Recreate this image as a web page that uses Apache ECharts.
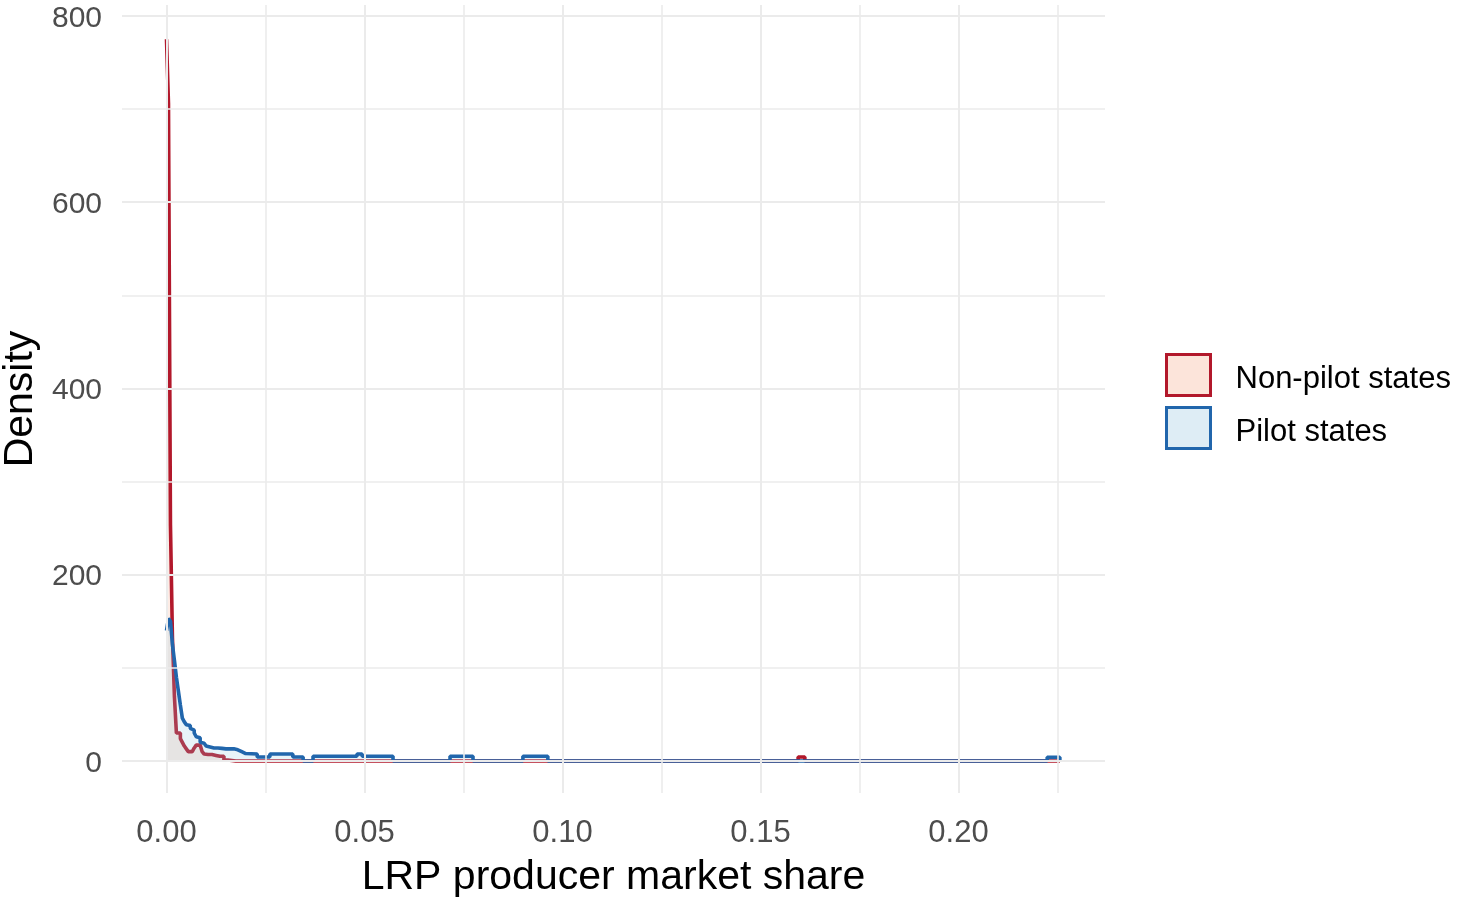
<!DOCTYPE html>
<html>
<head>
<meta charset="UTF-8">
<title>LRP producer market share</title>
<script type="text/javascript" src="https://cdn.jsdelivr.net/npm/echarts@6/dist/echarts.min.js"></script>
<style type="text/css">
html, body {
	margin: 0;
	padding: 0;
	background-color: #FFFFFF
}
#chart {
	width: 1458px;
	height: 901px
}
</style>
</head>
<body>
	<div id="chart"></div>
</body>
<script type="text/javascript">
	// histogram, first part in bins of equal width
	var binWidth = 0.0005;
	var nonPilotHead = [775, 706, 253, 132, 69, 30, 30, 24, 20, 16,
		13, 10, 10, 10, 14, 17, 17, 15, 10, 7.5,
		7, 6, 7, 5, 6, 5, 5, 6, 5, 1,
		1, 0.5, 0.5, 0.5, 0, 0, 0, 0, 0, 0];
	var pilotHead = [140, 153, 150, 125, 108, 90, 75, 60, 46, 42,
		39, 38, 35, 33, 30, 26, 25, 20, 19, 18,
		16, 15, 15, 14, 14, 14, 14, 13.5, 13, 13,
		13, 13, 13, 13, 13, 12, 10, 10, 10, 8];
	// long tail, given as (start of step, density)
	var pilotTailStart = [0.0200, 0.0229, 0.0261, 0.0319, 0.0345, 0.0370, 0.0481,
		0.0494, 0.0572, 0.0716, 0.0774, 0.0900, 0.0963, 0.2224];
	var pilotTail = [7.5, 4.3, 7.5, 4.3, 0, 5, 7.5, 5, 0, 5, 0, 5, 0, 4];
	var nonPilotTailStart = [0.0200, 0.1595, 0.1612, 0.2224];
	var nonPilotTail = [0, 4.3, 0, 0];
	var dataEnd = 0.2256;

	var xTicks = [0, 0.05, 0.10, 0.15, 0.20];
	var xMinor = [0.025, 0.075, 0.125, 0.175, 0.225];
	var yTicks = [0, 200, 400, 600, 800];
	var yMinor = [100, 300, 500, 700];

	var seriesNames = ['Non-pilot states', 'Pilot states'];

	function stepPoints(head, tailStart, tail) {
		var pts = [];
		head.forEach(function(d, k) {
			pts.push([k * binWidth, d]);
		});
		tail.forEach(function(d, i) {
			pts.push([tailStart[i], d]);
		});
		pts.push([dataEnd, 0]);
		return pts;
	}

	function gridLines() {
		var out = [];
		xTicks.forEach(function(v) {
			out.push({ xAxis: v, lineStyle: { width: 2 } });
		});
		xMinor.forEach(function(v) {
			out.push({ xAxis: v, lineStyle: { width: 1.6 } });
		});
		yTicks.forEach(function(v) {
			out.push({ yAxis: v, lineStyle: { width: 2 } });
		});
		yMinor.forEach(function(v) {
			out.push({ yAxis: v, lineStyle: { width: 1.6 } });
		});
		return out;
	}

	var font = "'Liberation Sans', Arial, sans-serif";
	var myChart = echarts.init(document.getElementById("chart"));
	var option = {
		animation : false,
		backgroundColor : '#ffffff',
		grid : {
			left : 122,
			right : 353,
			top : 5,
			bottom : 108,
			containLabel : false,
			outerBoundsMode : 'none'
		},
		legend : {
			orient : 'vertical',
			left : 1160,
			top : 348,
			itemWidth : 44,
			itemGap : 9,
			itemHeight : 41,
			formatter : function(name) {
				return '{t|' + name + '}';
			},
			textStyle : {
				fontFamily : font,
				fontSize : 31,
				color : '#000000',
				rich : {
					t : {
						fontFamily : font,
						fontSize : 31,
						color : '#000000',
						padding : [ 9, 0, 0, 20 ]
					}
				}
			},
			data : [ {
				name : seriesNames[0],
				icon : 'rect',
				itemStyle : {
					color : '#fce4da',
					borderColor : '#b2182b',
					borderWidth : 3
				}
			}, {
				name : seriesNames[1],
				icon : 'rect',
				itemStyle : {
					color : '#deedf5',
					borderColor : '#2166ac',
					borderWidth : 3
				}
			} ]
		},
		xAxis : {
			type : 'value',
			min : -0.01124,
			max : 0.2370,
			name : 'LRP producer market share',
			nameLocation : 'middle',
			nameGap : 64,
			nameTextStyle : {
				fontFamily : font,
				fontSize : 41,
				color : '#000000'
			},
			axisLine : { show : false },
			axisTick : { show : false },
			splitLine : { show : false },
			axisLabel : {
				customValues : xTicks,
				margin : 25,
				fontFamily : font,
				fontSize : 31,
				color : '#4d4d4d',
				formatter : function(v) {
					return v.toFixed(2);
				}
			}
		},
		yAxis : {
			type : 'value',
			min : -34.4,
			max : 811.8,
			name : 'Density',
			nameLocation : 'middle',
			nameGap : 73,
			nameTextStyle : {
				fontFamily : font,
				fontSize : 41,
				color : '#000000'
			},
			axisLine : { show : false },
			axisTick : { show : false },
			splitLine : { show : false },
			axisLabel : {
				customValues : yTicks,
				margin : 20,
				verticalAlign : 'top',
				lineHeight : 5,
				fontFamily : font,
				fontSize : 30,
				color : '#4d4d4d'
			}
		},
		series : [ {
			name : 'grid',
			type : 'line',
			data : [],
			z : 1,
			markLine : {
				silent : true,
				animation : false,
				precision : 5,
				symbol : [ 'none', 'none' ],
				label : { show : false },
				lineStyle : {
					color : '#ebebeb',
					type : 'solid'
				},
				data : gridLines()
			}
		}, {
			name : seriesNames[0],
			type : 'line',
			step : 'end',
			showSymbol : false,
			symbol : 'none',
			z : 2,
			data : stepPoints(nonPilotHead, nonPilotTailStart, nonPilotTail),
			lineStyle : {
				color : '#b2182b',
				width : 3.6
			},
			itemStyle : { color : '#b2182b' },
			areaStyle : {
				color : 'rgba(244,165,130,0.3)'
			}
		}, {
			name : seriesNames[1],
			type : 'line',
			step : 'end',
			showSymbol : false,
			symbol : 'none',
			z : 3,
			data : stepPoints(pilotHead, pilotTailStart, pilotTail),
			lineStyle : {
				color : '#2166ac',
				width : 3.6
			},
			itemStyle : { color : '#2166ac' },
			areaStyle : {
				color : 'rgba(146,197,222,0.3)'
			}
		} ]
	};
	myChart.setOption(option);
</script>
</html>
